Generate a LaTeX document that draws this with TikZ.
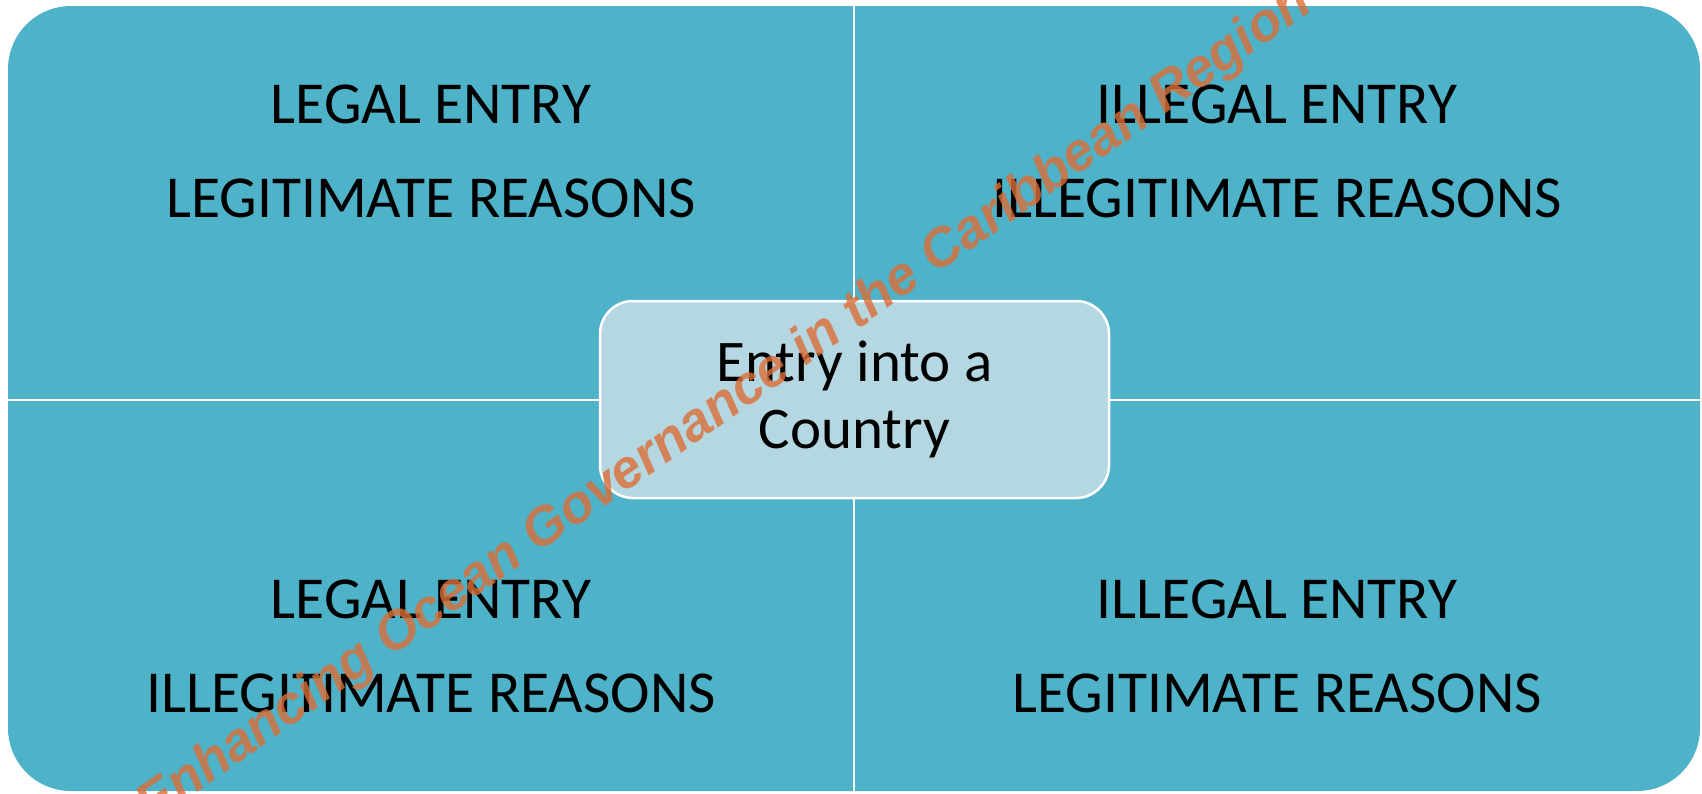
\documentclass[tikz,border=0pt]{standalone}
\usepackage{fontspec}
\setmainfont{Carlito}
\newfontfamily\wmfont{Liberation Sans}
\definecolor{quadfill}{RGB}{78,178,200}
\definecolor{hubfill}{RGB}{180,215,226}
\definecolor{wmorange}{RGB}{220,110,55}

\begin{document}
\begin{tikzpicture}[x=1pt,y=-1pt]

      \useasboundingbox (0,0) rectangle (1702,793);

      % matrix background
      \fill[quadfill,rounded corners=63pt] (8,6) rectangle (1700,791);

      \coordinate (top)    at (854,6);
      \coordinate (bottom) at (854,791);
      \coordinate (left)   at (8,400);
      \coordinate (right)  at (1700,400);

      \begin{scope}[every path/.style={draw=white,line width=2.5pt}]
        \path (top)  -- (bottom);
        \path (left) -- (right);
      \end{scope}

      \begin{scope}[every node/.style={anchor=base,font=\fontsize{59.5}{70}\selectfont}]
        \node (q1a) at (431,123)  {LEGAL ENTRY};
        \node (q1b) at (431,217)  {LEGITIMATE REASONS};
        \node (q2a) at (1277,123) {ILLEGAL ENTRY};
        \node (q2b) at (1277,217) {ILLEGITIMATE REASONS};
        \node (q3a) at (431,618)  {LEGAL ENTRY};
        \node (q3b) at (431,712)  {ILLEGITIMATE REASONS};
        \node (q4a) at (1277,618) {ILLEGAL ENTRY};
        \node (q4b) at (1277,712) {LEGITIMATE REASONS};
      \end{scope}

      \node[fill=hubfill,draw=white,line width=2.5pt,rounded corners=33pt,
            minimum width=509pt,minimum height=197pt,align=center,
            font=\fontsize{59}{67}\selectfont] (hub) at (854.5,399.5)
            {\raisebox{-5pt}{Entry into a}\\\raisebox{-5pt}{Country}};

      % watermark
      \begin{scope}
        \clip (0,0) rectangle (1702,793);
        \node[anchor=base,rotate=35,text=wmorange,text opacity=0.8,
              font=\wmfont\bfseries\itshape\fontsize{54}{60}\selectfont] (wm) at (733,417)
              {Enhancing Ocean Governance in the Caribbean Region};
      \end{scope}

    \end{tikzpicture}
\end{document}
